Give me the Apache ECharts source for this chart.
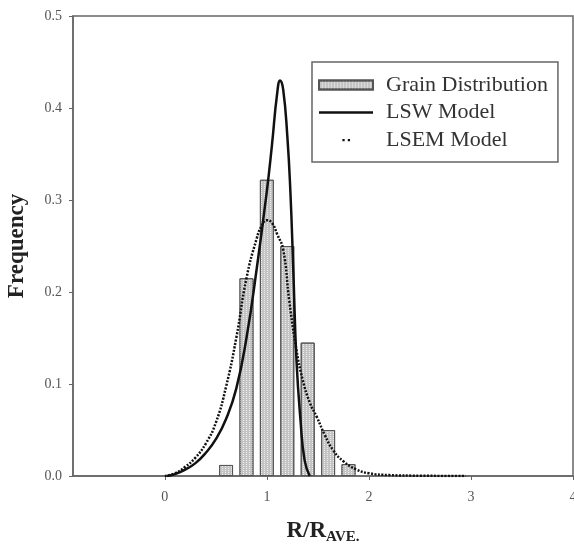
<!DOCTYPE html>
<html>
<head>
<meta charset="utf-8">
<script src="https://cdn.jsdelivr.net/npm/echarts@6/dist/echarts.min.js"></script>
<style>
  html, body { margin: 0; padding: 0; background: #fff; }
  #chart { width: 574px; height: 549px; }
</style>
</head>
<body>
<div id="chart"></div>
<script>
// histogram of grain sizes (bin centres, frequency)
const binCenters = [0.6, 0.8, 1.0, 1.2, 1.4, 1.6, 1.8]
const grainFreq = [0.012, 0.215, 0.322, 0.25, 0.145, 0.05, 0.013]

// LSW model curve
const lswX = [0.02, 0.1, 0.2, 0.3, 0.4, 0.5, 0.6, 0.7, 0.8, 0.9, 1.0, 1.05, 1.1, 1.13, 1.16, 1.2, 1.23, 1.26, 1.29, 1.33, 1.37, 1.42]
const lswY = [0, 0.002, 0.007, 0.014, 0.025, 0.04, 0.062, 0.095, 0.15, 0.225, 0.31, 0.36, 0.415, 0.43, 0.42, 0.37, 0.31, 0.22, 0.126, 0.06, 0.017, 0]

// LSEM model curve
const lsemX = [0, 0.1, 0.2, 0.3, 0.4, 0.5, 0.6, 0.7, 0.8, 0.9, 0.95, 1.0, 1.05, 1.1, 1.16, 1.22, 1.29, 1.35, 1.42, 1.49, 1.57, 1.65, 1.75, 1.88, 2.0, 2.2, 2.5, 2.95]
const lsemY = [0, 0.003, 0.01, 0.02, 0.035, 0.058, 0.097, 0.15, 0.215, 0.258, 0.272, 0.278, 0.275, 0.263, 0.246, 0.19, 0.137, 0.105, 0.08, 0.064, 0.044, 0.028, 0.016, 0.007, 0.003, 0.001, 0.0003, 0]

const xTicks = [0, 1, 2, 3, 4]

const zip = (xs, ys) => xs.map((x, i) => [x, ys[i]])

let myChart = echarts.init(document.getElementById('chart'))
const axisCol = '#666'
const serif = '"Liberation Serif", "DejaVu Serif", serif'

myChart.setOption({
  backgroundColor: '#fff',
  animation: false,
  grid: {
    left: 73, right: 1, top: 16, bottom: 73,
    outerBoundsMode: 'none',
    containLabel: false,
    show: true,
    borderColor: axisCol,
    borderWidth: 1.5
  },
  legend: {
    orient: 'vertical',
    left: 312,
    top: 62,
    padding: [12, 10, 11, 6],
    itemWidth: 54,
    itemHeight: 9,
    itemGap: 5.5,
    borderColor: axisCol,
    borderWidth: 1.5,
    textStyle: { fontFamily: serif, fontSize: 22, color: '#333', padding: [0, 0, 0, 8] },
    data: [
      { name: 'Grain Distribution', icon: 'rect' },
      { name: 'LSW Model', icon: 'path://M0,4 h54 v2.5 h-54 z' },
      { name: 'LSEM Model', icon: 'path://M0,0 M54,10 M23,4 h2.5 v2.5 h-2.5 z M29,4 h2.5 v2.5 h-2.5 z' }
    ]
  },
  xAxis: {
    type: 'value',
    min: -0.9,
    max: 4,
    name: '{a|R/R}{b|AVE.}',
    nameLocation: 'middle',
    nameGap: 42,
    nameTextStyle: {
      rich: {
        a: { fontFamily: serif, fontSize: 23, fontWeight: 'bold', color: '#222' },
        b: { fontFamily: serif, fontSize: 15, fontWeight: 'bold', color: '#222', verticalAlign: 'bottom', padding: [12, 0, 0, 0] }
      }
    },
    axisLine: { lineStyle: { color: axisCol, width: 1.5 } },
    axisTick: { customValues: xTicks, length: 4, lineStyle: { color: axisCol } },
    axisLabel: { customValues: xTicks, margin: 14, fontFamily: serif, fontSize: 14, color: '#555' },
    splitLine: { show: false }
  },
  yAxis: {
    type: 'value',
    min: 0,
    max: 0.5,
    interval: 0.1,
    name: 'Frequency',
    nameLocation: 'middle',
    nameGap: 44,
    nameTextStyle: { fontFamily: serif, fontSize: 23, fontWeight: 'bold', color: '#222' },
    axisLine: { show: true, onZero: false, lineStyle: { color: axisCol, width: 1.5 } },
    axisTick: { show: true, length: 4, lineStyle: { color: axisCol } },
    axisLabel: { margin: 11, fontFamily: serif, fontSize: 14, color: '#555', formatter: v => v.toFixed(1) },
    splitLine: { show: false }
  },
  series: [
    {
      name: 'Grain Distribution',
      type: 'bar',
      barWidth: 14,
      data: zip(binCenters, grainFreq),
      itemStyle: {
        color: '#c4c4c4',
        borderColor: '#555',
        borderWidth: 1,
        decal: {
          symbol: 'rect',
          symbolSize: 1,
          dashArrayX: [[1, 2]],
          dashArrayY: [1, 1],
          color: '#eeeeee'
        }
      }
    },
    {
      name: 'LSW Model',
      type: 'line',
      smooth: true,
      symbol: 'none',
      data: zip(lswX, lswY),
      itemStyle: { color: '#111' },
      lineStyle: { color: '#111', width: 2.5 }
    },
    {
      name: 'LSEM Model',
      type: 'line',
      smooth: true,
      symbol: 'none',
      data: zip(lsemX, lsemY),
      itemStyle: { color: '#111' },
      lineStyle: { color: '#111', width: 2.5, type: [2, 1.5] }
    }
  ]
})
</script>
</body>
</html>
